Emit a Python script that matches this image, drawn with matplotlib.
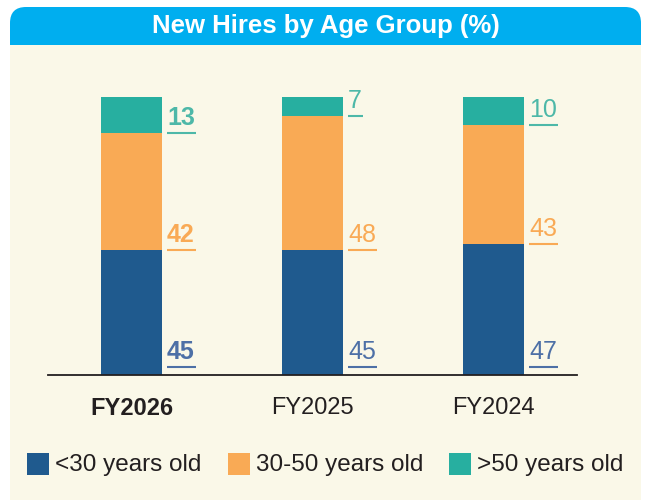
import matplotlib.pyplot as plt
from matplotlib.patches import FancyBboxPatch, Rectangle

plt.rcParams['font.family'] = ['Liberation Sans', 'DejaVu Sans']

# data
years = ['FY2026', 'FY2025', 'FY2024']
under30 = [45, 45, 47]
mid = [42, 48, 43]
over50 = [13, 7, 10]
series_names = ['<30 years old', '30-50 years old', '>50 years old']

bar_colors = ['#1F5A8E', '#F9AA55', '#27AFA0']
label_colors = ['#4D70A6', '#F9AA55', '#4DB8A8']
cream = '#FAF8E8'
header = '#00AEEF'

W, H = 646, 500
fig = plt.figure(figsize=(W / 100, H / 100), dpi=100)
fig.patch.set_facecolor('white')

# background axes in pixel coords (y down)
bg = fig.add_axes([0, 0, 1, 1], zorder=0)
bg.set_xlim(0, W)
bg.set_ylim(H, 0)
bg.axis('off')
bg.add_patch(FancyBboxPatch((10, 7), 631, 80, boxstyle='round,pad=0,rounding_size=16',
                            fc=header, ec='none'))
bg.add_patch(Rectangle((10, 45), 631, 460, fc=cream, ec='none'))
bg.text(326, 26, 'New Hires by Age Group (%)', color='white', fontsize=18.5,
        fontweight='bold', ha='center', va='center')

# legend
leg_x = [27, 228, 449]
for i, name in enumerate(series_names):
    bg.add_patch(Rectangle((leg_x[i], 453), 22, 22, fc=bar_colors[i], ec='none'))
    bg.text(leg_x[i] + 28, 465, name, fontsize=17.5, color='#231F20', ha='left', va='center')

# main chart
ax = fig.add_axes([48 / W, 1 - 375 / H, 529 / W, 278 / H], zorder=1)
ax.patch.set_alpha(0)
x = list(range(len(years)))
width = 61 / 181
stacks = [under30, mid, over50]
bottoms = [0] * len(years)
seg_bottoms = []
for i, vals in enumerate(stacks):
    ax.bar(x, vals, width, bottom=bottoms, color=bar_colors[i], zorder=2)
    seg_bottoms.append(list(bottoms))
    bottoms = [b + v for b, v in zip(bottoms, vals)]

ax.set_xlim(-0.461, 2.461)
ax.set_ylim(0, 100)
for s in ['top', 'right', 'left']:
    ax.spines[s].set_visible(False)
ax.spines['bottom'].set_color('#231F20')
ax.spines['bottom'].set_linewidth(1.3)
ax.spines['bottom'].set_zorder(3)
ax.set_yticks([])
ax.set_xticks(x)
ax.set_xticklabels(years, fontsize=17, color='#231F20')
ax.get_xticklabels()[0].set_fontweight('bold')
ax.tick_params(axis='x', length=0, pad=16)

# value labels with underline
px_y = 278 / 100
texts = []
for i, vals in enumerate(stacks):
    for j, v in enumerate(vals):
        ub = seg_bottoms[i][j]
        if ub == 0:
            ub = 8 / px_y
        t = ax.text(j + width / 2 + 5 / 181, ub + 3 / px_y, str(v), fontsize=18,
                    color=label_colors[i], fontweight='bold' if j == 0 else 'normal',
                    ha='left', va='bottom')
        texts.append((t, ub, label_colors[i]))

fig.canvas.draw()
r = fig.canvas.get_renderer()
inv = ax.transData.inverted()
for t, ub, c in texts:
    bb = t.get_window_extent(r)
    x0 = inv.transform((bb.x0, 0))[0]
    x1 = inv.transform((bb.x1 + 1, 0))[0]
    ax.plot([x0, x1], [ub, ub], color=c, lw=1.5, solid_capstyle='butt', zorder=3)

fig.savefig('out.png', dpi=100, facecolor=fig.get_facecolor())
